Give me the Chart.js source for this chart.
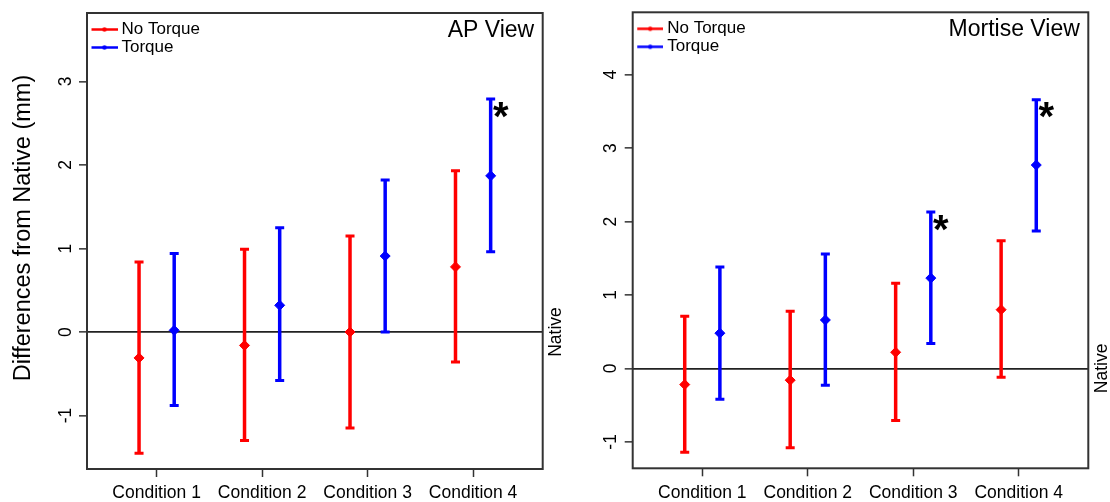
<!DOCTYPE html>
<html>
<head>
<meta charset="utf-8">
<script src="https://cdn.jsdelivr.net/npm/chart.js@4.4.1/dist/chart.umd.min.js"></script>
<style>
  html, body { margin: 0; padding: 0; background: #fff; }
  #wrap { position: relative; width: 1110px; height: 502px; overflow: hidden; }
  canvas { position: absolute; top: 0; }
  #apChart { left: 0; }
  #mortiseChart { left: 580px; }
</style>
</head>
<body>
<div id="wrap">
  <canvas id="apChart" width="580" height="502"></canvas>
  <canvas id="mortiseChart" width="530" height="502"></canvas>
</div>
<script>
const conditions = ['Condition 1', 'Condition 2', 'Condition 3', 'Condition 4'];

// AP view
const apNoTorqueMean = [-0.31, -0.16, 0.00, 0.78];
const apNoTorqueLow = [-1.45, -1.30, -1.15, -0.36];
const apNoTorqueHigh = [0.84, 0.99, 1.15, 1.93];
const apTorqueMean = [0.02, 0.32, 0.91, 1.87];
const apTorqueLow = [-0.88, -0.58, 0.00, 0.96];
const apTorqueHigh = [0.94, 1.25, 1.82, 2.79];
const apTorqueSig = [false, false, false, true];
const apYTicks = [-1, 0, 1, 2, 3];

// Mortise view
const moNoTorqueMean = [-0.22, -0.16, 0.22, 0.80];
const moNoTorqueLow = [-1.14, -1.08, -0.71, -0.12];
const moNoTorqueHigh = [0.71, 0.78, 1.16, 1.74];
const moTorqueMean = [0.48, 0.66, 1.23, 2.77];
const moTorqueLow = [-0.42, -0.23, 0.34, 1.87];
const moTorqueHigh = [1.38, 1.56, 2.13, 3.66];
const moTorqueSig = [false, false, true, true];
const moYTicks = [-1, 0, 1, 2, 3, 4];

const RED = '#ff0000';
const BLUE = '#0000ff';
const FONT = "'Liberation Sans', Arial, Helvetica, sans-serif";
const dodge = 1 / 6;

Chart.defaults.font.family = FONT;
Chart.defaults.color = '#000';

// legend marker: short line with a dot in the middle
function legendIcon(color) {
    const c = document.createElement('canvas');
    c.width = 34;
    c.height = 9;
    const g = c.getContext('2d');
    g.strokeStyle = color;
    g.lineWidth = 2.5;
    g.beginPath();
    g.moveTo(8, 4.5);
    g.lineTo(34, 4.5);
    g.stroke();
    g.fillStyle = color;
    g.beginPath();
    g.arc(21, 4.5, 2.2, 0, Math.PI * 2);
    g.fill();
    return c;
}

// vertical error bars with flat caps, drawn under the diamonds
const errorBars = {
    id: 'errorBars',
    beforeDatasetsDraw(chart) {
        const { ctx, scales: { x, y } } = chart;
        ctx.save();
        chart.data.datasets.forEach(ds => {
            ctx.strokeStyle = ds.borderColor;
            ds.data.forEach((p, i) => {
                const px = x.getPixelForValue(p.x);
                const lo = y.getPixelForValue(ds.low[i]);
                const hi = y.getPixelForValue(ds.high[i]);
                ctx.lineWidth = 3.5;
                ctx.beginPath();
                ctx.moveTo(px, lo);
                ctx.lineTo(px, hi);
                ctx.stroke();
                ctx.lineWidth = 3;
                ctx.beginPath();
                ctx.moveTo(px - 4.5, lo);
                ctx.lineTo(px + 4.5, lo);
                ctx.moveTo(px - 4.5, hi);
                ctx.lineTo(px + 4.5, hi);
                ctx.stroke();
            });
        });
        ctx.restore();
    }
};

// box, panel title, "Native" label and significance stars
const panelDecor = {
    id: 'panelDecor',
    afterDraw(chart, args, opts) {
        const { ctx, chartArea: a, scales: { x, y } } = chart;
        ctx.save();
        ctx.strokeStyle = '#333';
        ctx.lineWidth = 2;
        ctx.strokeRect(a.left, a.top, a.right - a.left, a.bottom - a.top);

        ctx.fillStyle = '#000';
        ctx.font = '23px ' + FONT;
        ctx.textAlign = 'right';
        ctx.textBaseline = 'alphabetic';
        ctx.fillText(opts.title, a.right - 8.5, a.top + 23.7);

        ctx.font = 'bold 40px ' + FONT;
        ctx.textAlign = 'left';
        const m = ctx.measureText('*');
        const offX = (m.actualBoundingBoxRight - m.actualBoundingBoxLeft) / 2;
        const offY = (m.actualBoundingBoxAscent - m.actualBoundingBoxDescent) / 2;
        chart.data.datasets.forEach(ds => {
            if (!ds.sig) return;
            ds.data.forEach((p, i) => {
                if (!ds.sig[i]) return;
                const cx = x.getPixelForValue(p.x) + 10.3;
                const cy = y.getPixelForValue(ds.high[i]) + 10.5;
                ctx.fillText('*', cx - offX, cy + offY);
            });
        });

        ctx.font = '17.5px ' + FONT;
        ctx.textAlign = 'center';
        ctx.translate(a.right + 18.5, y.getPixelForValue(0));
        ctx.rotate(-Math.PI / 2);
        ctx.fillText('Native', 0, 0);
        ctx.restore();
    }
};

function makePanel(canvasId, cfg) {
    const datasets = [
        {
            label: 'No Torque',
            data: cfg.noMean.map((v, i) => ({ x: i + 1 - dodge, y: v })),
            low: cfg.noLow,
            high: cfg.noHigh,
            color: RED
        },
        {
            label: 'Torque',
            data: cfg.tMean.map((v, i) => ({ x: i + 1 + dodge, y: v })),
            low: cfg.tLow,
            high: cfg.tHigh,
            sig: cfg.tSig,
            color: BLUE
        }
    ].map(ds => Object.assign(ds, {
        borderColor: ds.color,
        backgroundColor: ds.color,
        pointStyle: 'rectRot',
        pointRadius: 5,
        pointBorderWidth: 1,
        showLine: false
    }));

    return new Chart(document.getElementById(canvasId), {
        type: 'scatter',
        data: { datasets: datasets },
        plugins: [errorBars, panelDecor],
        options: {
            responsive: false,
            animation: false,
            events: [],
            layout: {
                padding: { left: 0, top: cfg.padTop, right: cfg.padRight, bottom: 0 }
            },
            scales: {
                x: {
                    type: 'linear',
                    min: 0.34,
                    max: 4.66,
                    afterBuildTicks: s => { s.ticks = conditions.map((c, i) => ({ value: i + 1 })); },
                    afterFit: s => {
                        s.height = cfg.xAxisHeight;
                        s.paddingLeft = 0;
                        s.paddingRight = 0;
                    },
                    grid: {
                        drawOnChartArea: false,
                        drawTicks: true,
                        tickLength: 8,
                        tickColor: '#333',
                        tickWidth: 1.5
                    },
                    border: { display: false },
                    ticks: {
                        autoSkip: false,
                        minRotation: 0,
                        maxRotation: 0,
                        padding: 6,
                        font: { size: 17.5 },
                        color: '#000',
                        callback: (v, i) => conditions[i]
                    }
                },
                y: {
                    type: 'linear',
                    min: cfg.yMin,
                    max: cfg.yMax,
                    afterBuildTicks: s => { s.ticks = cfg.yTicks.map(v => ({ value: v })); },
                    afterFit: s => {
                        s.width = cfg.yAxisWidth;
                        s.paddingTop = 0;
                        s.paddingBottom = 0;
                    },
                    grid: {
                        drawOnChartArea: true,
                        color: c => (c.tick && c.tick.value === 0 ? '#222' : 'rgba(0,0,0,0)'),
                        lineWidth: 1.7,
                        drawTicks: true,
                        tickLength: 8,
                        tickColor: '#333',
                        tickWidth: 1.5
                    },
                    border: { display: false },
                    ticks: {
                        autoSkip: false,
                        minRotation: 90,
                        maxRotation: 90,
                        crossAlign: 'center',
                        padding: 5.5,
                        font: { size: 17.5 },
                        color: '#000'
                    },
                    title: {
                        display: !!cfg.yTitle,
                        text: cfg.yTitle || '',
                        font: { size: 23.5 },
                        color: '#000',
                        padding: { top: 9, bottom: 0 }
                    }
                }
            },
            plugins: {
                tooltip: { enabled: false },
                panelDecor: { title: cfg.title },
                legend: {
                    position: 'chartArea',
                    align: 'start',
                    // empty title only pushes the items down inside the box
                    title: {
                        display: true,
                        text: '',
                        font: { size: 1, lineHeight: 1 },
                        padding: { top: cfg.padTop + 6, bottom: 0 }
                    },
                    labels: {
                        usePointStyle: true,
                        pointStyleWidth: 25,
                        padding: 1,
                        font: { size: 17 },
                        color: '#000',
                        generateLabels: chart => chart.data.datasets.map((ds, i) => ({
                            text: ds.label,
                            pointStyle: legendIcon(ds.color),
                            fillStyle: ds.color,
                            strokeStyle: ds.color,
                            lineWidth: 0,
                            hidden: false,
                            datasetIndex: i
                        }))
                    }
                }
            }
        }
    });
}

makePanel('apChart', {
    title: 'AP View',
    yTitle: '    Differences from Native (mm)',
    noMean: apNoTorqueMean, noLow: apNoTorqueLow, noHigh: apNoTorqueHigh,
    tMean: apTorqueMean, tLow: apTorqueLow, tHigh: apTorqueHigh, tSig: apTorqueSig,
    yTicks: apYTicks,
    yMin: -1.64,
    yMax: 3.82,
    padTop: 13,
    padRight: 37.3,
    yAxisWidth: 87,
    xAxisHeight: 33
});

makePanel('mortiseChart', {
    title: 'Mortise View',
    noMean: moNoTorqueMean, noLow: moNoTorqueLow, noHigh: moNoTorqueHigh,
    tMean: moTorqueMean, tLow: moTorqueLow, tHigh: moTorqueHigh, tSig: moTorqueSig,
    yTicks: moYTicks,
    yMin: -1.36,
    yMax: 4.85,
    padTop: 12.3,
    padRight: 21.7,
    yAxisWidth: 52.7,
    xAxisHeight: 33.7
});
</script>
</body>
</html>
